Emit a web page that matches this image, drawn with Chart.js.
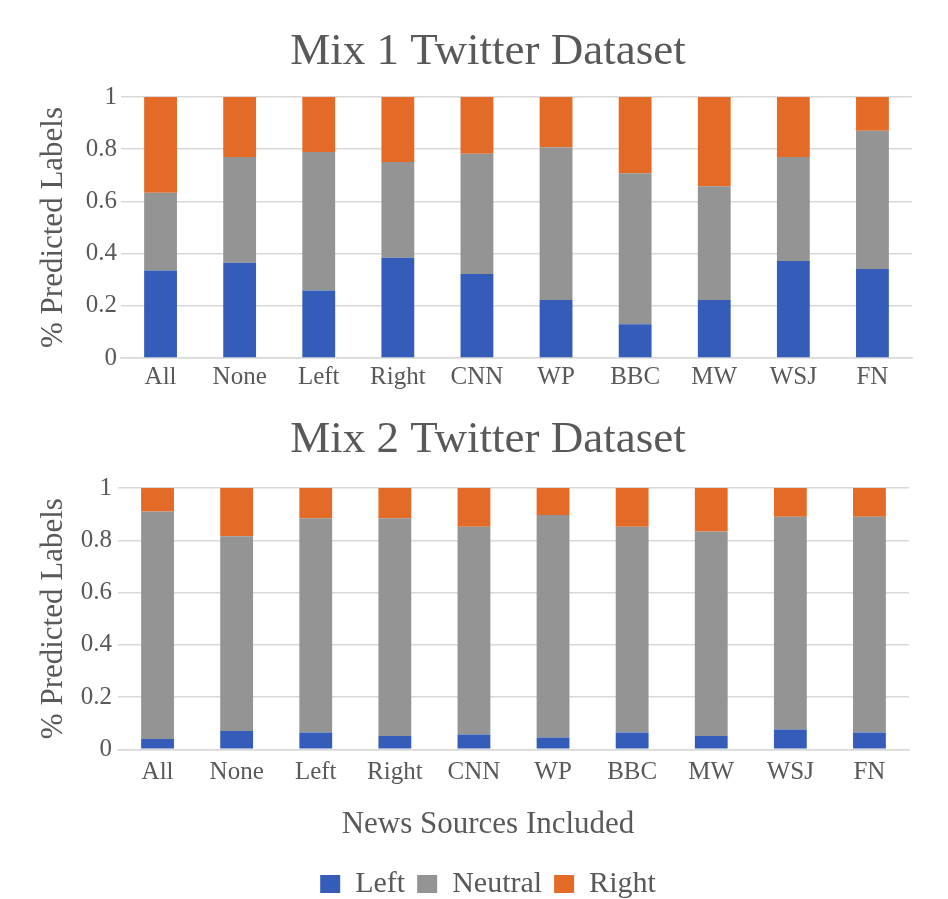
<!DOCTYPE html>
<html>
<head>
<meta charset="utf-8">
<script src="https://cdn.jsdelivr.net/npm/chart.js@4.4.1/dist/chart.umd.min.js"></script>
<style>
  html, body { margin: 0; padding: 0; background: #ffffff; overflow: hidden; }
  #c1wrap { position: absolute; left: 0; top: 0; width: 948px; height: 400px; }
  #c2wrap { position: absolute; left: 0; top: 400px; width: 948px; height: 509px; }
</style>
</head>
<body>
<div id="c1wrap"><canvas id="c1" width="948" height="400"></canvas></div>
<div id="c2wrap"><canvas id="c2" width="948" height="509"></canvas></div>
<script>
const categories = ['All', 'None', 'Left', 'Right', 'CNN', 'WP', 'BBC', 'MW', 'WSJ', 'FN'];
const seriesNames = ['Left', 'Neutral', 'Right'];
const yTickLabels = ['0', '0.2', '0.4', '0.6', '0.8', '1'];

const mix1Left    = [0.335, 0.365, 0.259, 0.384, 0.322, 0.222, 0.129, 0.222, 0.372, 0.341];
const mix1Neutral = [0.298, 0.405, 0.530, 0.367, 0.461, 0.585, 0.579, 0.436, 0.398, 0.530];
const mix1Right   = [0.367, 0.230, 0.211, 0.249, 0.217, 0.193, 0.292, 0.342, 0.230, 0.129];

const mix2Left    = [0.039, 0.070, 0.064, 0.051, 0.057, 0.045, 0.064, 0.051, 0.076, 0.064];
const mix2Neutral = [0.871, 0.745, 0.820, 0.833, 0.795, 0.852, 0.788, 0.783, 0.814, 0.826];
const mix2Right   = [0.090, 0.185, 0.116, 0.116, 0.148, 0.103, 0.148, 0.166, 0.110, 0.110];

const COLORS = ['#355cb8', '#949494', '#e46a27'];
const TEXT = '#595959';
const FONT = "'Liberation Serif', 'Times New Roman', serif";

function datasets(l, n, r) {
  return [l, n, r].map((d, i) => ({
    label: seriesNames[i],
    data: d,
    backgroundColor: COLORS[i],
    borderWidth: 0,
    barPercentage: 0.415,
    categoryPercentage: 1.0
  }));
}

function makeChart(id, titleText, l, n, r, cfg) {
  return new Chart(document.getElementById(id), {
    type: 'bar',
    data: { labels: categories, datasets: datasets(l, n, r) },
    options: {
      responsive: false,
      animation: false,
      devicePixelRatio: 1,
      layout: { padding: { left: cfg.padLeft, right: cfg.padRight, top: 0, bottom: 0 } },
      plugins: {
        title: {
          display: true,
          text: titleText,
          color: TEXT,
          font: { family: FONT, size: 45, weight: 'normal', lineHeight: 1.2 },
          padding: { top: cfg.titleTop, bottom: cfg.titleBottom }
        },
        legend: cfg.legend ? {
          display: true,
          position: 'bottom',
          title: {
            display: true,
            text: 'News Sources Included',
            color: TEXT,
            font: { family: FONT, size: 31, lineHeight: 1.2 },
            padding: { top: 3, bottom: 10 }
          },
          labels: {
            color: TEXT,
            font: { family: FONT, size: 30 },
            boxWidth: 20,
            boxHeight: 18,
            padding: 12
          }
        } : { display: false },
        tooltip: { enabled: false }
      },
      scales: {
        x: {
          stacked: true,
          grid: { display: false, drawTicks: false },
          border: { display: true, color: '#d9d9d9', width: 1.5 },
          ticks: {
            color: TEXT,
            font: { family: FONT, size: 25 },
            padding: cfg.xTickPad,
            maxRotation: 0,
            autoSkip: false
          },
          afterFit: (s) => { s.height = cfg.xHeight; }
        },
        y: {
          stacked: true,
          min: 0,
          max: 1,
          ticks: {
            stepSize: 0.2,
            color: TEXT,
            font: { family: FONT, size: 25 },
            padding: cfg.yTickPad,
            callback: (v, i) => yTickLabels[i]
          },
          grid: { color: '#d9d9d9', lineWidth: 1.5, drawTicks: false },
          border: { display: false },
          title: {
            display: true,
            text: '% Predicted Labels',
            color: TEXT,
            font: { family: FONT, size: 31, lineHeight: 1.2 },
            padding: { top: cfg.yTitlePad, bottom: 0 }
          },
          afterFit: (s) => { s.width = cfg.yWidth; }
        }
      }
    }
  });
}

makeChart('c1', 'Mix 1 Twitter Dataset', mix1Left, mix1Neutral, mix1Right, {
  padLeft: 64, padRight: 36, titleTop: 25, titleBottom: 18, legend: false,
  xTickPad: 4, xHeight: 42, yTickPad: 4, yWidth: 57, yTitlePad: -28.6
});

makeChart('c2', 'Mix 2 Twitter Dataset', mix2Left, mix2Neutral, mix2Right, {
  padLeft: 67, padRight: 39, titleTop: 13, titleBottom: 21, legend: true,
  xTickPad: 8, xHeight: 57.5, yTickPad: 6, yWidth: 51, yTitlePad: -31.6
});
</script>
</body>
</html>
